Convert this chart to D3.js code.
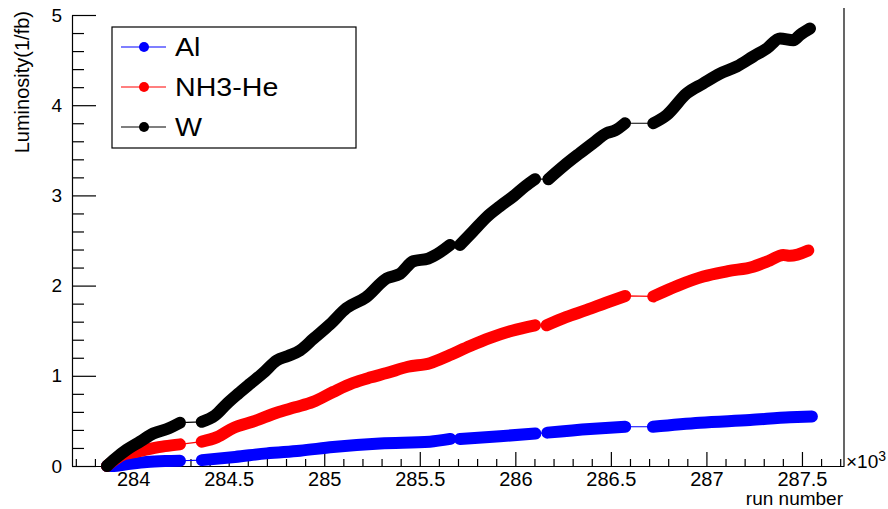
<!DOCTYPE html>
<html>
<head>
<meta charset="utf-8">
<script src="https://cdn.jsdelivr.net/npm/d3@7"></script>
<style>
  body { margin: 0; background: #fff; }
  svg { font-family: "Liberation Sans", Arial, sans-serif; }
</style>
</head>
<body>
<svg id="chart" width="888" height="509"></svg>
<script>

// run numbers and integrated luminosity (1/fb)
var wRuns = [283863, 283905, 283966, 284036, 284105, 284177, 284245,
  284359, 284428, 284490, 284549, 284611, 284680, 284751, 284810, 284873, 284943,
  285030, 285116, 285218, 285327, 285396, 285466, 285544, 285606, 285658,
  285710, 285778, 285850, 285920, 285990, 286051, 286103,
  286173, 286255, 286339, 286407, 286478, 286522, 286574,
  286722, 286792, 286897, 286982, 287071, 287160, 287245, 287317, 287385, 287455, 287490, 287542]
var wLumi = [0.00, 0.08, 0.18, 0.27, 0.36, 0.41, 0.48,
  0.49, 0.56, 0.69, 0.80, 0.91, 1.03, 1.17, 1.22, 1.28, 1.41,
  1.57, 1.75, 1.87, 2.08, 2.13, 2.27, 2.30, 2.37, 2.45,
  2.45, 2.60, 2.76, 2.88, 2.99, 3.10, 3.18,
  3.18, 3.33, 3.47, 3.58, 3.69, 3.72, 3.80,
  3.80, 3.89, 4.13, 4.24, 4.35, 4.43, 4.54, 4.63, 4.74, 4.72, 4.78, 4.85]

var nhRuns = [283863, 283905, 283952, 283999, 284088, 284167, 284245,
  284359, 284439, 284523, 284638, 284751, 284847, 284941, 285046, 285150, 285239,
  285327, 285438, 285553, 285658, 285763, 285868, 285983, 286103,
  286164, 286265, 286374, 286475, 286575,
  286722, 286851, 286984, 287113, 287245, 287333, 287402, 287437, 287533]
var nhLumi = [0.00, 0.07, 0.13, 0.15, 0.19, 0.22, 0.24,
  0.27, 0.32, 0.42, 0.50, 0.59, 0.65, 0.71, 0.82, 0.92, 0.98,
  1.03, 1.10, 1.14, 1.23, 1.33, 1.42, 1.50, 1.56,
  1.56, 1.65, 1.73, 1.81, 1.885,
  1.88, 2.00, 2.10, 2.16, 2.21, 2.28, 2.34, 2.33, 2.39]

var alRuns = [283863, 283900, 283957, 284071, 284167, 284245,
  284360, 284533, 284699, 284873, 285046, 285292, 285553, 285660,
  285710, 285920, 286105,
  286168, 286391, 286575,
  286720, 286966, 287228, 287437, 287552]
var alLumi = [0.00, 0.00, 0.015, 0.045, 0.055, 0.058,
  0.065, 0.10, 0.14, 0.17, 0.21, 0.25, 0.27, 0.30,
  0.30, 0.33, 0.36,
  0.37, 0.41, 0.435,
  0.435, 0.48, 0.51, 0.54, 0.55]

// run ranges with no data for each target (points there are joined only by the thin line)
var wGaps = [[284250, 284355], [285662, 285705], [286106, 286168], [286578, 286718]]
var nhGaps = [[284250, 284355], [286106, 286160], [286578, 286718]]
var alGaps = [[284250, 284355], [285662, 285705], [286106, 286165], [286578, 286718]]

var keys = ["Al", "NH3-He", "W"]
var color = d3.scaleOrdinal()
  .domain(keys)
  .range(["#0000ff", "#ff0000", "#000000"])

var series = [
  {name: "Al", runs: alRuns, lumi: alLumi, gaps: alGaps},
  {name: "NH3-He", runs: nhRuns, lumi: nhLumi, gaps: nhGaps},
  {name: "W", runs: wRuns, lumi: wLumi, gaps: wGaps}
]

var svg = d3.select("#chart")
var padL = 72, padR = 844, padT = 15, padB = 466

var x = d3.scaleLinear().domain([283680, 287720]).range([padL, padR])
var y = d3.scaleLinear().domain([0, 5]).range([padB, padT])

// right frame edge
svg.append("line")
  .attr("x1", padR).attr("x2", padR)
  .attr("y1", 8).attr("y2", padB)
  .attr("stroke", "#000").attr("stroke-width", 1.2)

// x axis: major ticks every 500 runs, minor every 100
var xMajor = d3.range(284000, 287501, 500)
var xMinor = d3.range(283700, 287701, 100).filter(function(d){ return d % 500 != 0 })

var xAxis = svg.append("g")
  .attr("transform", "translate(0," + padB + ")")
  .call(d3.axisBottom(x).tickValues(xMajor).tickSize(-14).tickSizeOuter(0).tickPadding(6)
    .tickFormat(function(d){ return d3.format("")(d / 1000) }))
xAxis.append("g")
  .call(d3.axisBottom(x).tickValues(xMinor).tickSize(-7).tickSizeOuter(0).tickFormat(""))
  .select(".domain").remove()

// y axis: major ticks every 1, minor every 0.2
var yMinor = d3.range(0, 5.01, 0.2).filter(function(d){ return Math.abs(d - Math.round(d)) > 0.01 })
var yAxis = svg.append("g")
  .attr("transform", "translate(" + padL + ",0)")
  .call(d3.axisLeft(y).tickValues([0, 1, 2, 3, 4, 5]).tickFormat(d3.format("d"))
    .tickSize(-24).tickSizeOuter(0).tickPadding(10))
yAxis.append("g")
  .call(d3.axisLeft(y).tickValues(yMinor).tickSize(-12).tickSizeOuter(0).tickFormat(""))
  .select(".domain").remove()

svg.selectAll(".tick line").attr("stroke", "#000").attr("stroke-width", 1.2)
svg.selectAll(".domain").attr("stroke", "#000").attr("stroke-width", 1.2)
svg.selectAll(".tick text")
  .style("font-size", "19px")
  .style("font-family", "Liberation Sans, Arial, sans-serif")
  .attr("fill", "#000")
xAxis.selectAll(".tick text").style("font-size", "20px")

// axis titles
svg.append("text")
  .attr("transform", "translate(29,11) rotate(-90)")
  .attr("text-anchor", "end")
  .style("font-size", "20px")
  .text("Luminosity(1/fb)")

svg.append("text")
  .attr("x", 843).attr("y", 505)
  .attr("text-anchor", "end")
  .style("font-size", "19px")
  .text("run number")

var exp = svg.append("text")
  .attr("x", 846).attr("y", 468)
  .style("font-size", "19px")
exp.append("tspan").text("\u00d710")
exp.append("tspan").attr("dy", -7).style("font-size", "14px").text("3")

// graphs: thin line through every point, dense markers drawn as a thick band
var line = d3.line()
  .x(function(d){ return x(d.run) })
  .y(function(d){ return y(d.lumi) })

var band = d3.line()
  .curve(d3.curveMonotoneX)
  .x(function(d){ return x(d.run) })
  .y(function(d){ return y(d.lumi) })

function segments(s) {
  var pts = s.runs.map(function(r, i){ return {run: r, lumi: s.lumi[i]} })
  var out = [[pts[0]]]
  for (var i = 1; i < pts.length; i++) {
    var p = pts[i - 1], q = pts[i]
    var cut = s.gaps.some(function(g){ return p.run <= g[0] && q.run >= g[1] })
    if (cut) out.push([])
    out[out.length - 1].push(q)
  }
  return {name: s.name, all: pts, segs: out}
}

var graphs = svg.selectAll("g.graph")
  .data(series.map(segments))
  .enter()
  .append("g")
    .attr("class", "graph")

graphs.append("path")
  .attr("d", function(d){ return line(d.all) })
  .attr("fill", "none")
  .attr("stroke", function(d){ return color(d.name) })
  .attr("stroke-width", 1.2)

graphs.selectAll("path.band")
  .data(function(d){ return d.segs.map(function(seg){ return {name: d.name, pts: seg} }) })
  .enter()
  .append("path")
    .attr("class", "band")
    .attr("d", function(d){ return band(d.pts) })
    .attr("fill", "none")
    .attr("stroke", function(d){ return color(d.name) })
    .attr("stroke-width", 12)
    .attr("stroke-linecap", "round")
    .attr("stroke-linejoin", "round")

// legend
svg.append("rect")
  .attr("x", 112).attr("y", 27)
  .attr("width", 244).attr("height", 121)
  .attr("fill", "#fff")
  .attr("stroke", "#000")
  .attr("stroke-width", 1.2)

var size = 40
svg.selectAll("mylines")
  .data(keys)
  .enter()
  .append("line")
    .attr("x1", 121).attr("x2", 166)
    .attr("y1", function(d,i){ return 47 + i*size })
    .attr("y2", function(d,i){ return 47 + i*size })
    .attr("stroke", function(d){ return color(d) })
    .attr("stroke-width", 1.2)

svg.selectAll("mydots")
  .data(keys)
  .enter()
  .append("circle")
    .attr("cx", 144)
    .attr("cy", function(d,i){ return 47 + i*size })
    .attr("r", 5)
    .style("fill", function(d){ return color(d) })

svg.selectAll("mylabels")
  .data(keys)
  .enter()
  .append("text")
    .attr("transform", function(d,i){ return "translate(175," + (47 + i*size) + ") scale(1.1,1)" })
    .attr("dy", "0.36em")
    .style("font-size", "26px")
    .text(function(d){ return d })

</script>
</body>
</html>
